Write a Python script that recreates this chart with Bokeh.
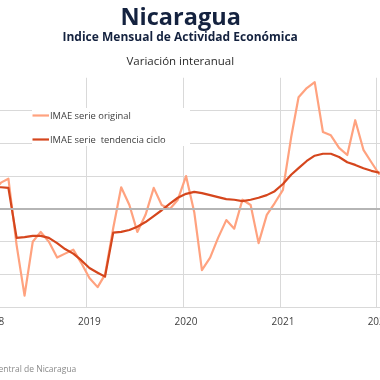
import pandas as pd
from bokeh.plotting import figure
from bokeh.models import (Range1d, FixedTicker, DatetimeTickFormatter, Span,
                          Title, Legend, LegendItem)
from bokeh.embed import file_html
from bokeh.resources import INLINE

# ---- data ----
months = pd.date_range("2018-01-01", "2022-01-01", freq="MS")
serie_original = [2.6, 4.0, 4.6, -5.5, -13.2, -5.0, -3.5, -5.0, -7.4, -6.8, -6.2, -8.2,
                  -10.5, -11.9, -10.0, -2.9, 3.3, 0.6, -3.5, -0.9, 3.2, 0.6, 0.0, 1.4,
                  5.0, -0.5, -9.3, -7.4, -4.4, -1.7, -3.0, 1.4, 0.6, -5.2, -0.9, 0.9,
                  2.9, 10.9, 17.0, 18.4, 19.3, 11.7, 11.2, 9.3, 8.2, 13.5, 9.0, 7.1,
                  5.2]
tendencia_ciclo = [3.3, 3.3, 3.2, -4.4, -4.3, -4.1, -4.1, -4.4, -5.2, -6.1, -6.8, -7.8,
                   -9.0, -9.7, -10.3, -3.6, -3.5, -3.2, -2.7, -2.0, -1.1, -0.2, 0.8, 1.7,
                   2.3, 2.6, 2.4, 2.1, 1.8, 1.5, 1.4, 1.2, 1.4, 1.7, 2.1, 2.7,
                   3.8, 5.2, 6.2, 7.3, 8.1, 8.4, 8.4, 7.9, 7.1, 6.7, 6.2, 5.8,
                   5.5]
years = [2018, 2019, 2020, 2021, 2022]
y_ticks = [-15, -10, -5, 0, 5, 10, 15, 20]

# points (and year labels) sit a little after the start of their month
mid = pd.Timedelta(days=11)
x_dates = months + mid

LIGHT = "#FFA27F"
DARK = "#D5461D"
NAVY = "#14223F"
FONT = "Open Sans"

# the chart is larger than the window and is cropped by it, like the reference
LEFT_CROP, TOP_CROP, RIGHT_EXTRA = 20, 6, 10
W = 380 + LEFT_CROP + RIGHT_EXTRA
FRAME_TOP = 77 + TOP_CROP
FRAME_H = 230
BOTTOM = 100
H = FRAME_TOP + FRAME_H + BOTTOM

px_per_year = 96.7
year_ms = 365.25 * 86400000
t2019 = pd.Timestamp("2019-01-01").value / 1e6
x_start = t2019 - (86 + LEFT_CROP) / px_per_year * year_ms
x_end = x_start + W / px_per_year * year_ms

p = figure(width=W, height=H, output_backend="svg", toolbar_location=None,
           x_axis_type="datetime",
           x_range=Range1d(x_start, x_end), y_range=Range1d(-15, 20),
           min_border_left=0, min_border_right=0,
           min_border_top=FRAME_TOP, min_border_bottom=BOTTOM,
           background_fill_color="white", border_fill_color="white",
           outline_line_color=None)
p.styles = {"position": "fixed", "left": f"-{LEFT_CROP}px", "top": f"-{TOP_CROP}px"}

p.yaxis.visible = False
jan_ms = [pd.Timestamp(f"{y}-01-01").value / 1e6 for y in years]
label_ms = [(pd.Timestamp(f"{y}-01-01") + mid).value / 1e6 for y in years]
p.xaxis.ticker = FixedTicker(ticks=label_ms)
p.xaxis.formatter = DatetimeTickFormatter(years="%Y", months="%Y", days="%Y")
p.xaxis.axis_line_color = "#d9d9d9"
p.xaxis.major_tick_line_color = None
p.xaxis.minor_tick_line_color = None
p.xaxis.major_label_text_font = FONT
p.xaxis.major_label_text_font_size = "10px"
p.xaxis.major_label_text_color = "#404040"
p.xaxis.major_label_standoff = 3

p.xgrid.ticker = FixedTicker(ticks=jan_ms)
p.xgrid.grid_line_color = "#d9d9d9"
p.ygrid.ticker = FixedTicker(ticks=y_ticks)
p.ygrid.grid_line_color = "#d9d9d9"

p.add_layout(Span(location=0, dimension="width", line_color="#b5b5b5", line_width=2))

r1 = p.line(x_dates, serie_original, line_color=LIGHT, line_width=2.2,
            line_join="round")
r2 = p.line(x_dates, tendencia_ciclo, line_color=DARK, line_width=2.2,
            line_join="round")

legend = Legend(items=[LegendItem(label="IMAE serie original", renderers=[r1]),
                       LegendItem(label="IMAE serie  tendencia ciclo", renderers=[r2])],
                location=(52, 161), padding=5, spacing=10,
                glyph_width=17, glyph_height=14, label_height=14, label_width=140,
                label_standoff=1, margin=0,
                label_text_font=FONT, label_text_font_size="9.4px",
                label_text_color="#404040",
                background_fill_color="white", background_fill_alpha=1.0,
                border_line_color=None)
p.add_layout(legend)

# titles: first added is closest to the frame
p.add_layout(Title(text="Variación interanual", align="left", offset=146,
                   text_font=FONT, text_font_size="11.5px", text_font_style="normal",
                   text_color="#2b2b2b", standoff=20), "above")
p.add_layout(Title(text="Indice Mensual de  Actividad Económica", align="left",
                   offset=82, text_font=FONT, text_font_size="12px",
                   text_font_style="bold", text_color=NAVY, standoff=-8), "above")
p.add_layout(Title(text="Nicaragua", align="left", offset=140,
                   text_font=FONT, text_font_size="23.5px", text_font_style="bold",
                   text_color=NAVY, standoff=-4), "above")
p.add_layout(Title(text="Fuente: Banco Central de Nicaragua", align="left",
                   offset=-46, text_font=FONT, text_font_size="8.5px",
                   text_font_style="normal", text_color="#8a8a8a",
                   standoff=66), "below")

open("out.html", "w").write(file_html(p, INLINE))
